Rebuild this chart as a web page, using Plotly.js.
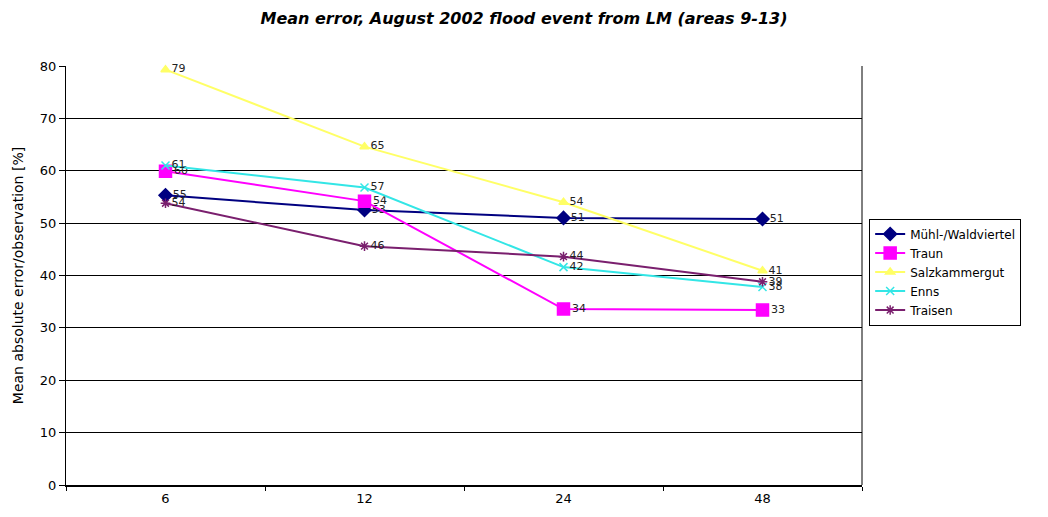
<!DOCTYPE html>
<html>
<head>
<meta charset="utf-8">
<script src="https://cdn.plot.ly/plotly-3.0.1.min.js"></script>
<style>html,body{margin:0;padding:0;background:#fff;}#chart{width:1048px;height:517px;}</style>
</head>
<body>
<div id="chart"></div>
<script>
const categories = ["6", "12", "24", "48"];
const seriesNames = ["Mühl-/Waldviertel", "Traun", "Salzkammergut", "Enns", "Traisen"];
const muehl = [55.3, 52.5, 51.0, 50.8];
const traun = [59.9, 54.2, 33.6, 33.4];
const salzkammergut = [79.3, 64.6, 54.0, 40.9];
const enns = [61.0, 56.8, 41.6, 37.8];
const traisen = [53.8, 45.6, 43.6, 38.8];
const yTicks = [0, 10, 20, 30, 40, 50, 60, 70, 80];

const values = [muehl, traun, salzkammergut, enns, traisen];
const colors = ["#000080", "#FF00FF", "#FFFF66", "#33E6E6", "#7A1F6E"];
const symbols = ["diamond", "square", "triangle-up", "x-thin-open", "asterisk-open"];
const sizes = [10, 12, 8, 8, 8];
const FONT = "DejaVu Sans, Verdana, sans-serif";

const traces = values.map((vals, i) => ({
  type: "scatter",
  mode: "lines+markers+text",
  name: seriesNames[i],
  x: categories,
  y: vals,
  text: vals.map(v => String(Math.round(v))),
  textposition: "middle right",
  textfont: {family: FONT, size: 11, color: "#222"},
  line: {color: colors[i], width: 2},
  marker: {symbol: symbols[i], size: sizes[i], color: colors[i], line: {color: colors[i], width: 1.5}},
  cliponaxis: false
}));

const layout = {
  width: 1048, height: 517,
  margin: {l: 66, r: 186, t: 66, b: 32},
  paper_bgcolor: "#fff", plot_bgcolor: "#fff",
  font: {family: FONT, size: 13, color: "#000"},
  title: {
    text: "Mean error, August 2002 flood event from LM (areas 9-13)",
    font: {family: FONT, size: 16, color: "#000", weight: "bold", style: "italic"},
    x: 0.5, xanchor: "center", y: 0.965, yanchor: "middle"
  },
  xaxis: {
    type: "category",
    categoryorder: "array", categoryarray: categories,
    range: [-0.5, 3.5],
    tickson: "boundaries",
    ticks: "outside", ticklen: 4, tickcolor: "#000",
    showline: true, linecolor: "#000", linewidth: 2, mirror: false,
    showgrid: false, zeroline: false,
    tickfont: {size: 13}
  },
  yaxis: {
    range: [0, 80],
    tickvals: yTicks,
    ticks: "outside", ticklen: 6, tickcolor: "#000",
    showline: true, linecolor: "#000", linewidth: 1,
    showgrid: true, gridcolor: "#000", gridwidth: 1,
    zeroline: false,
    tickfont: {size: 13},
    title: {text: "Mean absolute error/observation [%]", font: {size: 14}, standoff: 12}
  },
  shapes: [
    {type: "line", xref: "paper", yref: "paper", x0: 1, x1: 1, y0: 0, y1: 1, line: {color: "#000", width: 1}}
  ],
  legend: {
    x: 1.009, xanchor: "left", y: 0.636, yanchor: "top",
    bordercolor: "#000", borderwidth: 1, bgcolor: "#fff",
    font: {size: 12}, tracegroupgap: 0, itemwidth: 30
  },
  showlegend: true
};

Plotly.newPlot("chart", traces, layout, {displayModeBar: false, staticPlot: true});
</script>
</body>
</html>
